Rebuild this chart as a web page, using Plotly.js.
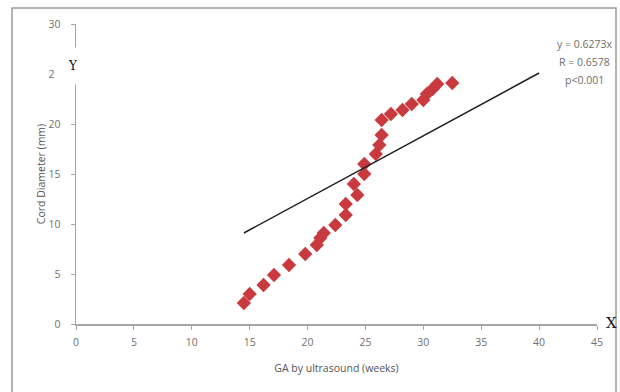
<!DOCTYPE html>
<html>
<head>
<meta charset="utf-8">
<script src="https://cdn.plot.ly/plotly-3.0.1.min.js"></script>
<style>
html,body{margin:0;padding:0;background:#fff;}
#chart{width:620px;height:392px;}
</style>
</head>
<body>
<div id="chart"></div>
<script>
// GA by ultrasound (weeks)
const gaWeeks = [14.5, 15.0, 16.2, 17.1, 18.4, 19.8, 20.8, 21.1, 21.4, 22.4, 23.3, 23.3, 24.3, 24.0, 24.9, 24.9, 25.9, 26.2, 26.4, 26.4, 27.2, 28.2, 29.0, 30.0, 30.3, 30.8, 31.2, 32.5];
// Cord diameter (mm)
const cordDiameter = [2.1, 3.0, 3.9, 4.9, 5.9, 7.0, 7.9, 8.6, 9.1, 9.9, 10.9, 12.0, 12.9, 14.0, 15.0, 16.0, 17.0, 17.9, 18.9, 20.4, 21.0, 21.4, 22.0, 22.4, 23.0, 23.5, 24.0, 24.1];
// Trend line end points (y = 0.6273x)
const trendX = [14.5, 40];
const trendY = [9.1, 25.1];
const xTickVals = [0, 5, 10, 15, 20, 25, 30, 35, 40, 45];
const xTickText = ["0", "5", "10", "15", "20", "25", "30", "35", "40", "45"];
const yTickVals = [0, 5, 10, 15, 20, 25, 30];
const yTickText = ["0", "5", "10", "15", "20", "2\u2007", "30"];
const statsLines = ["y = 0.6273x", "R = 0.6578", "p<0.001"];
const statsY = [28.0, 26.2, 24.4];

const tickFont = {family: "Open Sans, sans-serif", size: 10.5, color: "#707070"};

const traces = [
  {
    x: gaWeeks, y: cordDiameter, type: "scatter", mode: "markers",
    marker: {symbol: "diamond", size: 11, color: "#c93a3f"},
    showlegend: false
  },
  {
    x: trendX, y: trendY, type: "scatter", mode: "lines",
    line: {color: "#1e1e1e", width: 1.5},
    showlegend: false
  }
];

const annotations = [];
statsLines.forEach((t, i) => {
  annotations.push({
    x: 43.9, y: statsY[i], xref: "x", yref: "y", text: t, showarrow: false,
    font: {family: "Open Sans, sans-serif", size: 10.5, color: "#6e6e6e"},
    xanchor: "center", yanchor: "middle"
  });
});
annotations.push({
  x: (73 - 76) / 521, y: (324 - 66) / 300, xref: "paper", yref: "paper",
  text: "Y", showarrow: false, bgcolor: "#ffffff", width: 8, height: 36, borderpad: 0,
  font: {family: "DejaVu Serif, serif", size: 12, color: "#111"},
  xanchor: "center", yanchor: "middle"
});
annotations.push({
  x: (611 - 76) / 521, y: (324 - 323) / 300, xref: "paper", yref: "paper",
  text: "X", showarrow: false,
  font: {family: "DejaVu Serif, serif", size: 15, color: "#111"},
  xanchor: "center", yanchor: "middle"
});

const layout = {
  width: 620, height: 392,
  margin: {l: 76, r: 23, t: 24, b: 68},
  paper_bgcolor: "#ffffff", plot_bgcolor: "#ffffff",
  xaxis: {
    range: [0, 45], tickvals: xTickVals, ticktext: xTickText,
    showgrid: false, zeroline: false, showline: true, linecolor: "#a6a6a6", linewidth: 1.5,
    ticks: "outside", ticklen: 4, tickcolor: "#a6a6a6", tickfont: tickFont, ticklabelstandoff: 4,
    title: {text: "GA by ultrasound (weeks)", font: {family: "Open Sans, sans-serif", size: 10.5, color: "#555"}, standoff: 16}
  },
  yaxis: {
    range: [0, 30], tickvals: yTickVals, ticktext: yTickText,
    showgrid: false, zeroline: false, showline: true, linecolor: "#a6a6a6", linewidth: 1.5,
    ticks: "outside", ticklen: 4, tickcolor: "#a6a6a6", tickfont: tickFont, ticklabelstandoff: 8,
    title: {text: "Cord Diameter (mm)", font: {family: "Open Sans, sans-serif", size: 10.5, color: "#555"}, standoff: 0}
  },
  annotations: annotations,
  shapes: [
    {type: "rect", xref: "paper", yref: "paper",
     x0: (12 - 76) / 521, x1: (616 - 76) / 521, y0: (324 - 400) / 300, y1: (324 - 8) / 300,
     line: {color: "#9a9a9a", width: 1.5}, layer: "below"}
  ]
};

Plotly.newPlot("chart", traces, layout, {displayModeBar: false, staticPlot: true});
</script>
</body>
</html>
